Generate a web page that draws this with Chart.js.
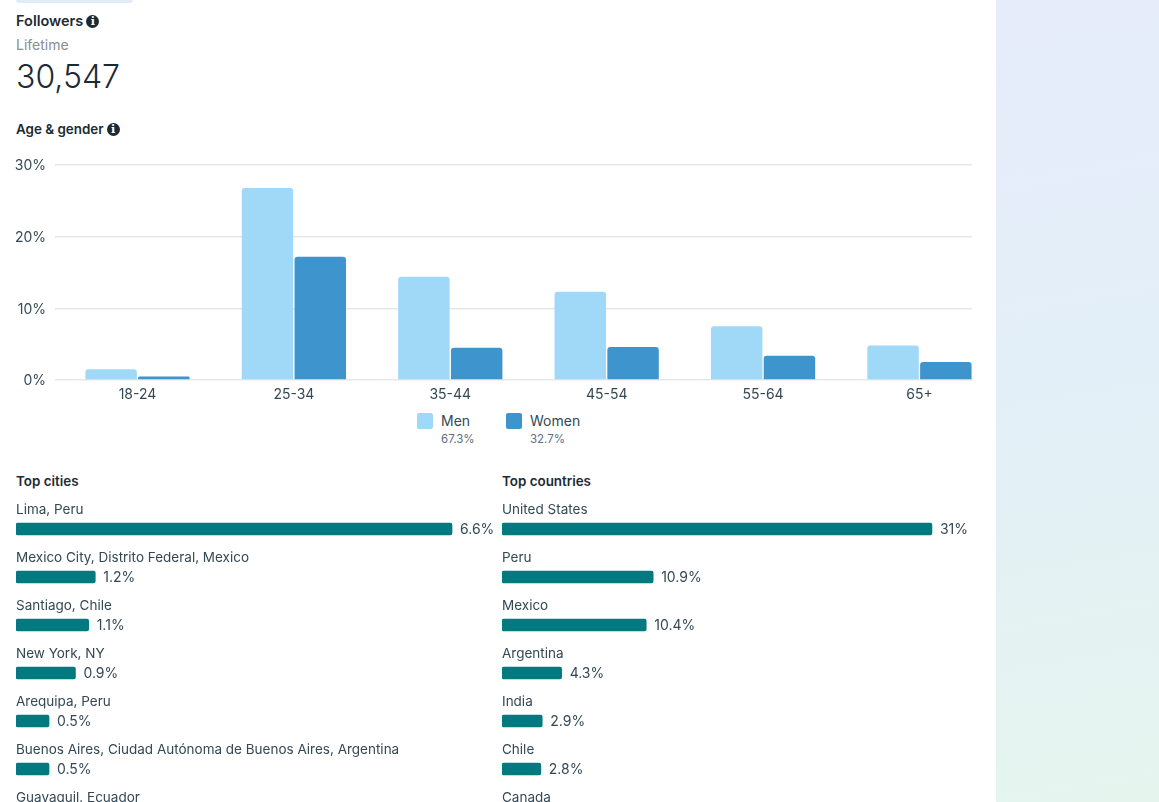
<!DOCTYPE html>
<html>
<head>
<meta charset="utf-8">
<title>Followers</title>
<script src="https://cdn.jsdelivr.net/npm/chart.js@4"></script>
<style>
  html, body { margin: 0; padding: 0; width: 1159px; height: 802px; overflow: hidden; background: #fff; }
  body { font-family: Inter, "Noto Sans", sans-serif; color: #1c2b33; position: relative; }
  .side { position: absolute; left: 996px; top: 0; width: 163px; height: 802px;
    background: linear-gradient(170deg, #e6ecfa 0%, #e3eff8 45%, #e5f5ee 100%); }
  .tab { position: absolute; left: 16px; top: -4px; width: 117px; height: 7px; background: #e0edf9; border-radius: 3px; }
  .txt { position: absolute; white-space: nowrap; line-height: 18px; }
  .bold { font-weight: 600; }
  .info { display: inline-block; width: 13px; height: 13px; border-radius: 50%; background: #1c2b33; color: #fff;
    font: bold 11px/13px "DejaVu Serif", serif; text-align: center; margin-left: 3px; vertical-align: 1px; }
  .swatch { position: absolute; width: 16px; height: 16px; border-radius: 2px; }
  canvas { position: absolute; display: block; }
</style>
</head>
<body>
<div class="side"></div>
<div class="tab"></div>
<div class="txt bold" style="left:16px;top:12px;font-size:14.5px">Followers<span class="info">i</span></div>
<div class="txt" style="left:16px;top:36px;font-size:14px;color:#8a8d91">Lifetime</div>
<div class="txt" style="left:16px;top:60px;font-size:32px;line-height:34px;font-weight:300">30,547</div>
<div class="txt bold" style="left:16px;top:120px;font-size:13.4px">Age &amp; gender<span class="info">i</span></div>
<div id="legend"></div>
<div class="txt bold" style="left:16px;top:472px;font-size:13.4px">Top cities</div>
<div class="txt bold" style="left:502px;top:472px;font-size:13.4px">Top countries</div>

<div style="position:absolute;left:0;top:150px;width:996px;height:260px"><canvas id="ageChart"></canvas></div>
<div style="position:absolute;left:16px;top:481px;width:480px;height:360px"><canvas id="citiesChart"></canvas></div>
<div style="position:absolute;left:502px;top:481px;width:470px;height:360px"><canvas id="countriesChart"></canvas></div>

<script>
// age & gender
const ageGroups = ['18-24', '25-34', '35-44', '45-54', '55-64', '65+'];
const menValues = [1.5, 26.8, 14.4, 12.3, 7.5, 4.8];
const womenValues = [0.5, 17.2, 4.5, 4.6, 3.4, 2.5];
const yTicks = [0, 10, 20, 30];
const genderNames = ['Men', 'Women'];
const genderShares = ['67.3%', '32.7%'];

// top lists, the last row of each is cut off by the window so no value can be read
const cities = ['Lima, Peru', 'Mexico City, Distrito Federal, Mexico', 'Santiago, Chile', 'New York, NY',
  'Arequipa, Peru', 'Buenos Aires, Ciudad Autónoma de Buenos Aires, Argentina', 'Guayaquil, Ecuador'];
const cityValues = [6.6, 1.2, 1.1, 0.9, 0.5, 0.5, null];
const countries = ['United States', 'Peru', 'Mexico', 'Argentina', 'India', 'Chile', 'Canada'];
const countryValues = [31, 10.9, 10.4, 4.3, 2.9, 2.8, null];

const menColor = '#a0d9f8';
const womenColor = '#3e94cc';
const tealColor = '#007a7e';
const textColor = '#344854';
const fontName = 'Inter, "Noto Sans", sans-serif';

// legend under the chart
const legendX = [417, 506];
const legendColors = [menColor, womenColor];
let legendHtml = '';
genderNames.forEach((name, i) => {
  legendHtml += `<div class="swatch" style="left:${legendX[i]}px;top:413px;background:${legendColors[i]}"></div>`;
  legendHtml += `<div class="txt" style="left:${legendX[i] + 24}px;top:412px;font-size:14px;color:${textColor}">${name}</div>`;
  legendHtml += `<div class="txt" style="left:${legendX[i] + 24}px;top:430px;font-size:11.5px;color:#5d7080">${genderShares[i]}</div>`;
});
document.getElementById('legend').innerHTML = legendHtml;

const toPoints = values => values.map((v, i) => ({ x: i, y: v }));

new Chart(document.getElementById('ageChart'), {
  type: 'bar',
  data: {
    datasets: [
      { label: 'Men', data: toPoints(menValues), backgroundColor: menColor },
      { label: 'Women', data: toPoints(womenValues), backgroundColor: womenColor }
    ]
  },
  options: {
    responsive: true,
    maintainAspectRatio: false,
    animation: false,
    layout: { padding: { top: 15, right: 24 } },
    categoryPercentage: 0.675,
    barPercentage: 0.975,
    elements: { bar: { borderRadius: { topLeft: 3, topRight: 3 }, borderSkipped: 'bottom' } },
    plugins: { legend: { display: false }, tooltip: { enabled: false } },
    scales: {
      x: {
        // linear so the last group can touch the right edge like in the original
        type: 'linear',
        offset: false,
        bounds: 'data',
        min: -0.5275,
        max: 5.336,
        afterBuildTicks: scale => { scale.ticks = ageGroups.map((g, i) => ({ value: i })); },
        afterFit: scale => { scale.height = 30; scale.paddingRight = 0; scale.paddingLeft = 0; },
        grid: { display: false, drawTicks: false },
        border: { display: false },
        ticks: {
          autoSkip: false, maxRotation: 0, padding: 6,
          color: textColor, font: { family: fontName, size: 14 },
          callback: value => ageGroups[value]
        }
      },
      y: {
        min: 0,
        max: 30,
        afterBuildTicks: scale => { scale.ticks = yTicks.map(v => ({ value: v })); },
        afterFit: scale => { scale.width = 55; scale.paddingTop = 0; scale.paddingBottom = 0; },
        grid: { color: '#e6e7ea', lineWidth: 1.5, drawTicks: false },
        border: { display: false },
        ticks: {
          padding: 9, labelOffset: 1, color: textColor, font: { family: fontName, size: 14 },
          callback: value => value + '%'
        }
      }
    }
  }
});

// writes the row name over each bar and the percent after it
const rowLabels = {
  id: 'rowLabels',
  afterDatasetsDraw(chart) {
    const ctx = chart.ctx;
    const xScale = chart.scales.x;
    const yScale = chart.scales.y;
    ctx.save();
    ctx.fillStyle = textColor;
    ctx.textBaseline = 'middle';
    ctx.textAlign = 'left';
    chart.data.labels.forEach((name, i) => {
      const y = yScale.getPixelForValue(i);
      ctx.font = '13.5px ' + fontName;
      ctx.fillText(name, 0, y - 19);
      const value = chart.data.datasets[0].data[i];
      if (value !== null) {
        ctx.font = '14px ' + fontName;
        ctx.fillText(value + '%', xScale.getPixelForValue(value) + 8, y + 1);
      }
    });
    ctx.restore();
  }
};

function makeListChart(id, names, values, maxValue) {
  new Chart(document.getElementById(id), {
    type: 'bar',
    data: {
      labels: names,
      datasets: [{ data: values, backgroundColor: tealColor, barThickness: 12, borderRadius: 2, borderSkipped: false }]
    },
    options: {
      indexAxis: 'y',
      responsive: true,
      maintainAspectRatio: false,
      animation: false,
      layout: { padding: { top: 24 } },
      plugins: { legend: { display: false }, tooltip: { enabled: false } },
      scales: {
        x: { display: false, min: 0, max: maxValue },
        y: { display: false }
      }
    },
    plugins: [rowLabels]
  });
}

makeListChart('citiesChart', cities, cityValues, 7.266);
makeListChart('countriesChart', countries, countryValues, 33.89);
</script>
</body>
</html>
